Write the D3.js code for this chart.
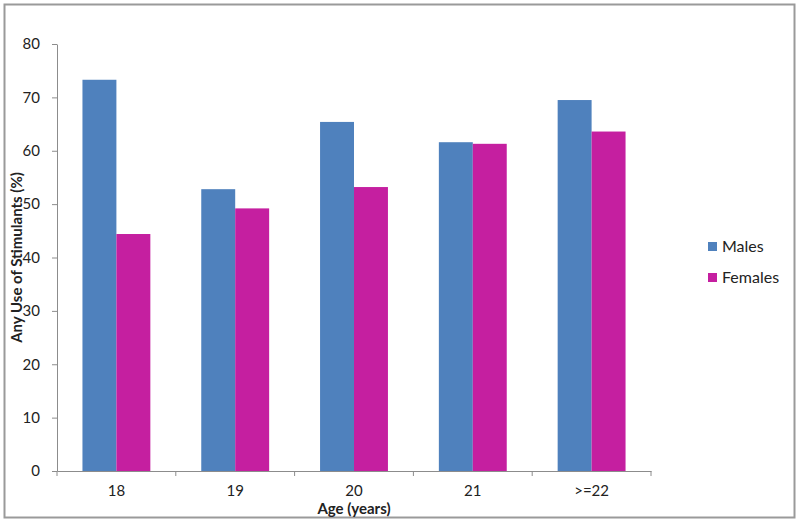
<!DOCTYPE html>
<html>
<head>
<meta charset="utf-8">
<script src="https://cdn.jsdelivr.net/npm/d3@7"></script>
<style>
  body { margin: 0; background: #fff; }
  svg { display: block; font-family: Lato, "Open Sans", sans-serif; }
  .axis path, .axis line { stroke: #8c8c8c; }
  .axis text { fill: #222; font-size: 15px; font-family: Lato, "Open Sans", sans-serif; }
</style>
</head>
<body>
<div id="chart"></div>
<script>
const ages = ['18', '19', '20', '21', '>=22'];
const seriesNames = ['Males', 'Females'];
const males = [73.3, 52.8, 65.4, 61.6, 69.5];
const females = [44.4, 49.2, 53.2, 61.3, 63.6];
const yTicks = [0, 10, 20, 30, 40, 50, 60, 70, 80];

const colors = ['#4f81bd', '#c51fa0'];
const width = 800, height = 524;
const margin = {top: 44, right: 149, bottom: 53, left: 57};
const innerW = width - margin.left - margin.right;
const innerH = height - margin.top - margin.bottom;

const svg = d3.select('#chart').append('svg')
    .attr('width', width)
    .attr('height', height);

// outer frame
svg.append('rect')
    .attr('x', 4.5).attr('y', 4.5)
    .attr('width', 790).attr('height', 513)
    .attr('fill', 'none')
    .attr('stroke', '#9a9a9a')
    .attr('stroke-width', 2);

const chart = svg.append('g')
    .attr('transform', `translate(${margin.left},${margin.top})`);

const x = d3.scaleBand().domain(ages).range([0, innerW]);
const xInner = d3.scaleBand().domain(seriesNames)
    .range([0, x.bandwidth()])
    .paddingInner(0).paddingOuter(0.75);
const y = d3.scaleLinear().domain([0, 80]).range([innerH, 0]);

const rows = ages.map((a, i) => ({age: a, values: [males[i], females[i]]}));

// bars
const groups = chart.selectAll('.group')
    .data(rows)
  .join('g')
    .attr('class', 'group')
    .attr('transform', d => `translate(${x(d.age)},0)`);

groups.selectAll('rect')
    .data(d => d.values.map((v, i) => ({name: seriesNames[i], value: v, i})))
  .join('rect')
    .attr('x', d => xInner(d.name))
    .attr('y', d => y(d.value))
    .attr('width', xInner.bandwidth())
    .attr('height', d => innerH - y(d.value))
    .attr('fill', d => colors[d.i]);

// y axis
chart.append('g')
    .attr('class', 'axis')
    .call(d3.axisLeft(y).tickValues(yTicks).tickSize(5).tickPadding(12).tickSizeOuter(0));

// x axis with ticks at category boundaries
const xAxis = chart.append('g')
    .attr('class', 'axis')
    .attr('transform', `translate(0,${innerH})`)
    .call(d3.axisBottom(x).tickSize(0).tickPadding(14));
xAxis.selectAll('.boundary')
    .data(d3.range(ages.length + 1))
  .join('line')
    .attr('class', 'boundary')
    .attr('x1', i => i * x.step())
    .attr('x2', i => i * x.step())
    .attr('y1', 0).attr('y2', 5);

// axis titles
svg.append('text')
    .attr('transform', `translate(22,${margin.top + innerH / 2}) rotate(-90)`)
    .attr('text-anchor', 'middle')
    .attr('font-size', 15)
    .attr('font-weight', 'bold')
    .attr('fill', '#222')
    .text('Any Use of Stimulants (%)');

svg.append('text')
    .attr('x', margin.left + innerW / 2)
    .attr('y', 514)
    .attr('text-anchor', 'middle')
    .attr('font-size', 15)
    .attr('font-weight', 'bold')
    .attr('fill', '#222')
    .text('Age (years)');

// legend
const legend = svg.append('g')
    .attr('transform', 'translate(708,242)');
const items = legend.selectAll('g')
    .data(seriesNames)
  .join('g')
    .attr('transform', (d, i) => `translate(0,${i * 31})`);
items.append('rect')
    .attr('width', 9).attr('height', 9)
    .attr('fill', (d, i) => colors[i]);
items.append('text')
    .attr('x', 14).attr('y', 10)
    .attr('font-size', 16)
    .attr('fill', '#222')
    .text(d => d);
</script>
</body>
</html>
